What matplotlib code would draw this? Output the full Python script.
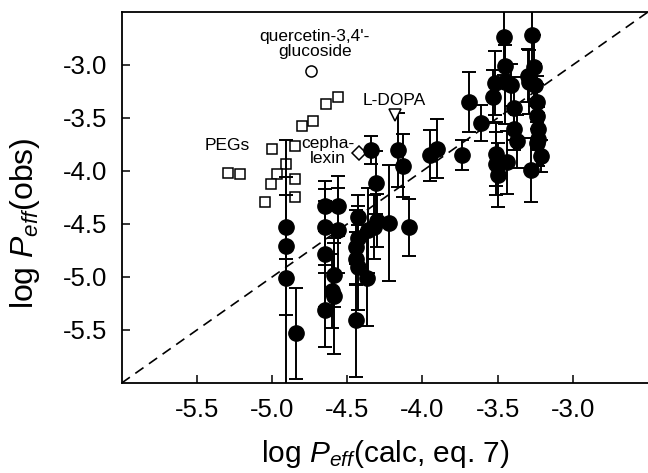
import matplotlib
matplotlib.use("Agg")
import matplotlib.pyplot as plt

plt.rcParams['font.family'] = ['Liberation Sans', 'DejaVu Sans']
plt.rcParams['mathtext.fontset'] = 'custom'
plt.rcParams['mathtext.rm'] = 'Liberation Sans'
plt.rcParams['mathtext.it'] = 'Liberation Sans:italic'

# filled circles: log Peff calc, log Peff obs, error
calc = [-4.91, -4.91, -4.91, -4.84, -4.65, -4.56, -4.65, -4.56, -4.65, -4.59,
        -4.59, -4.65, -4.60, -4.43, -4.43, -4.44, -4.44, -4.43, -4.37, -4.36,
        -4.32, -4.30, -4.44, -4.22, -4.34, -4.31, -4.09, -4.16, -4.13, -3.95,
        -3.90, -3.74, -3.69, -3.61, -3.46, -3.45, -3.52, -3.53, -3.45, -3.41,
        -3.39, -3.39, -3.37, -3.51, -3.51, -3.50, -3.44, -3.27, -3.26, -3.30,
        -3.29, -3.25, -3.24, -3.24, -3.23, -3.23, -3.24, -3.21, -3.28]
obs = [-4.53, -4.71, -5.01, -5.53, -4.33, -4.33, -4.53, -4.56, -4.78, -4.98,
       -5.18, -5.31, -5.13, -4.43, -4.63, -4.72, -4.83, -4.91, -5.01, -4.56,
       -4.53, -4.47, -5.41, -4.49, -3.80, -4.11, -4.53, -3.80, -3.95, -3.85,
       -3.79, -3.85, -3.35, -3.55, -2.74, -3.01, -3.17, -3.30, -3.16, -3.19,
       -3.41, -3.60, -3.72, -3.84, -3.93, -4.04, -3.92, -2.72, -3.02, -3.10,
       -3.16, -3.19, -3.35, -3.48, -3.60, -3.70, -3.74, -3.86, -3.99]
err = [0.30, 0.65, 1.30, 0.43, 0.24, 0.28, 0.36, 0.40, 0.50, 0.30,
       0.55, 0.35, 0.35, 0.20, 0.30, 0.35, 0.25, 0.40, 0.45, 0.40,
       0.30, 0.25, 0.53, 0.55, 0.13, 0.30, 0.27, 0.35, 0.30, 0.24,
       0.28, 0.14, 0.28, 0.17, 0.35, 0.20, 0.30, 0.25, 0.40, 0.20,
       0.30, 0.20, 0.25, 0.30, 0.30, 0.30, 0.30, 0.35, 0.30, 0.25,
       0.30, 0.20, 0.25, 0.30, 0.20, 0.25, 0.20, 0.15, 0.30]

# PEGs (open squares)
peg_calc = [-5.29, -5.21, -5.00, -4.85, -4.91, -4.97, -5.01, -4.85, -5.05, -4.85,
            -4.80, -4.73, -4.64, -4.56]
peg_obs = [-4.02, -4.03, -3.79, -3.76, -3.93, -4.03, -4.12, -4.08, -4.29, -4.25,
           -3.58, -3.53, -3.37, -3.30]

querc = (-4.74, -3.06)
cephalexin = (-4.42, -3.83)
ldopa = (-4.18, -3.475)

fig = plt.figure(figsize=(6.48, 4.73), dpi=100)
ax = fig.add_axes([0.1878, 0.1903, 0.8122, 0.7844])

ax.plot([0, 1], [0, 1], transform=ax.transAxes, color='black',
        linestyle=(0, (6, 4)), linewidth=1.2, zorder=1)

ax.errorbar(calc, obs, yerr=err, fmt='o', color='black', markersize=11,
            capsize=5, elinewidth=1.4, capthick=1.4, zorder=3)
ax.plot(peg_calc, peg_obs, 's', markersize=7.5, markerfacecolor='white',
        markeredgecolor='black', markeredgewidth=1.1, zorder=2)
ax.plot(*querc, 'o', markersize=8, markerfacecolor='white',
        markeredgecolor='black', markeredgewidth=1.1, zorder=2)
ax.plot(*cephalexin, 'D', markersize=7.5, markerfacecolor='white',
        markeredgecolor='black', markeredgewidth=1.1, zorder=2)
ax.plot(*ldopa, 'v', markersize=9, markerfacecolor='white',
        markeredgecolor='black', markeredgewidth=1.1, zorder=4)

ax.text(-4.715, -2.80, "quercetin-3,4'-\nglucoside", ha='center', va='center',
        fontsize=12.5, linespacing=1.0)
ax.text(-5.30, -3.76, "PEGs", ha='center', va='center', fontsize=12.5)
ax.text(-4.627, -3.807, "cepha-\nlexin", ha='center', va='center',
        fontsize=12.5, linespacing=1.0)
ax.text(-4.185, -3.333, "L-DOPA", ha='center', va='center', fontsize=12.5)

ax.set_xlim(-6, -2.5)
ax.set_ylim(-6, -2.5)
ticks = [-5.5, -5.0, -4.5, -4.0, -3.5, -3.0]
ax.set_xticks(ticks)
ax.set_yticks(ticks)
ax.set_xticklabels([f"{t:.1f}" for t in ticks])
ax.set_yticklabels([f"{t:.1f}" for t in ticks])
ax.tick_params(direction='in', length=6, width=1.1, labelsize=18.5, pad=10.5)
ax.spines['right'].set_visible(False)
for s in ['left', 'bottom', 'top']:
    ax.spines[s].set_linewidth(1.3)

ax.set_xlabel("log $P_{eff}$(calc, eq. 7)", fontsize=21.5)
ax.set_ylabel("log $P_{eff}$(obs)", fontsize=23)
ax.yaxis.set_label_coords(-0.151, 0.43)
ax.xaxis.set_label_coords(0.5, -0.148)

fig.savefig("out.png", dpi=100)
